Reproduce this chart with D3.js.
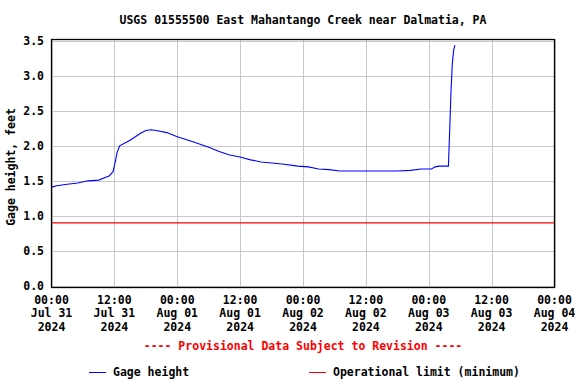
<!DOCTYPE html>
<html>
<head>
<meta charset="utf-8">
<script src="https://d3js.org/d3.v7.min.js"></script>
<style>
  html, body { margin: 0; padding: 0; background: #fff; }
  text { font-family: "DejaVu Sans Mono", monospace; font-weight: bold; }
</style>
</head>
<body>
<div id="chart"></div>
<script>
// gage height readings, feet
const times = [
  "2024-07-31T00:00", "2024-07-31T01:00", "2024-07-31T03:00", "2024-07-31T05:00",
  "2024-07-31T07:00", "2024-07-31T09:00", "2024-07-31T10:00", "2024-07-31T11:00",
  "2024-07-31T11:45", "2024-07-31T12:15", "2024-07-31T12:30", "2024-07-31T13:00",
  "2024-07-31T14:00", "2024-07-31T15:00", "2024-07-31T16:00", "2024-07-31T17:00",
  "2024-07-31T18:00", "2024-07-31T19:00", "2024-07-31T20:00", "2024-07-31T22:00",
  "2024-08-01T00:00", "2024-08-01T03:00", "2024-08-01T06:00", "2024-08-01T08:00",
  "2024-08-01T10:00", "2024-08-01T12:00", "2024-08-01T14:00", "2024-08-01T16:00",
  "2024-08-01T20:00", "2024-08-01T23:00", "2024-08-02T01:00", "2024-08-02T03:00",
  "2024-08-02T05:00", "2024-08-02T07:00", "2024-08-02T12:00", "2024-08-02T18:00",
  "2024-08-02T20:30", "2024-08-02T22:30", "2024-08-03T00:30", "2024-08-03T01:15",
  "2024-08-03T02:00", "2024-08-03T03:45", "2024-08-03T04:00", "2024-08-03T04:15",
  "2024-08-03T04:30", "2024-08-03T04:45", "2024-08-03T05:00"
];
const gageHeight = [
  1.41, 1.43, 1.45, 1.47,
  1.50, 1.51, 1.54, 1.57,
  1.63, 1.80, 1.90, 2.00,
  2.04, 2.08, 2.13, 2.18,
  2.22, 2.23, 2.22, 2.19,
  2.13, 2.06, 1.98, 1.92,
  1.87, 1.84, 1.80, 1.77,
  1.74, 1.71, 1.70, 1.67,
  1.66, 1.64, 1.64, 1.64,
  1.65, 1.67, 1.67, 1.70,
  1.71, 1.71, 2.23, 2.78,
  3.18, 3.37, 3.44
];
const operationalLimit = 0.9;

const yTicks = [0, 0.5, 1, 1.5, 2, 2.5, 3, 3.5];
const xTicks = [
  "2024-07-31T00:00", "2024-07-31T12:00", "2024-08-01T00:00", "2024-08-01T12:00",
  "2024-08-02T00:00", "2024-08-02T12:00", "2024-08-03T00:00", "2024-08-03T12:00",
  "2024-08-04T00:00"
];

const title = "USGS 01555500 East Mahantango Creek near Dalmatia, PA";
const yLabel = "Gage height, feet";
const note = "---- Provisional Data Subject to Revision ----";
const legendItems = [
  { label: "Gage height", color: "#0000ff" },
  { label: "Operational limit (minimum)", color: "#ff0000" }
];

const width = 576;
const height = 384;
const fontSize = 11.5;
const parse = d3.timeParse("%Y-%m-%dT%H:%M");
const fmt = d3.timeFormat("%H:%M|%b %d|%Y");

const plotLeft = 51.5, plotRight = 554.5, plotTop = 39.5, plotBottom = 287.5;

const x = d3.scaleTime()
  .domain([parse(xTicks[0]), parse(xTicks[xTicks.length - 1])])
  .range([plotLeft, plotRight]);
const y = d3.scaleLinear().domain([0, 3.5]).range([285.7, 41]);

const svg = d3.select("#chart").append("svg")
  .attr("width", width).attr("height", height);

svg.append("rect").attr("width", width).attr("height", height).attr("fill", "#fff");

// grid
svg.append("g").selectAll("line").data(yTicks).join("line")
  .attr("x1", plotLeft).attr("x2", plotRight)
  .attr("y1", d => Math.round(y(d)) + 0.5).attr("y2", d => Math.round(y(d)) + 0.5)
  .attr("stroke", "#c8c8c8").attr("stroke-width", 1);
svg.append("g").selectAll("line").data(xTicks).join("line")
  .attr("x1", d => Math.round(x(parse(d))) + 0.5).attr("x2", d => Math.round(x(parse(d))) + 0.5)
  .attr("y1", plotTop).attr("y2", plotBottom)
  .attr("stroke", "#c8c8c8").attr("stroke-width", 1);

// operational limit
svg.append("line")
  .attr("x1", plotLeft).attr("x2", plotRight)
  .attr("y1", y(operationalLimit)).attr("y2", y(operationalLimit))
  .attr("stroke", "#ff0000").attr("stroke-width", 1.3);

// gage line
const data = times.map((t, i) => ({ t: parse(t), v: gageHeight[i] }));
svg.append("path").datum(data)
  .attr("fill", "none").attr("stroke", "#0000ff").attr("stroke-width", 1.1)
  .attr("d", d3.line().x(d => x(d.t)).y(d => y(d.v)));

// frame
svg.append("rect")
  .attr("x", plotLeft).attr("y", plotTop)
  .attr("width", plotRight - plotLeft).attr("height", plotBottom - plotTop)
  .attr("fill", "none").attr("stroke", "#000").attr("stroke-width", 1.3);

// y tick labels
svg.append("g").selectAll("text").data(yTicks).join("text")
  .attr("x", 44).attr("y", d => y(d) + 4)
  .attr("text-anchor", "end").attr("font-size", fontSize)
  .text(d => d.toFixed(1));

// x tick labels
const xl = svg.append("g").selectAll("text").data(xTicks).join("text")
  .attr("text-anchor", "middle").attr("font-size", fontSize)
  .attr("transform", d => `translate(${x(parse(d))},304)`);
xl.selectAll("tspan").data(d => fmt(parse(d)).split("|")).join("tspan")
  .attr("x", 0).attr("dy", (d, i) => i === 0 ? 0 : 13.3)
  .text(d => d);

// title
svg.append("text")
  .attr("x", (plotLeft + plotRight) / 2).attr("y", 24)
  .attr("text-anchor", "middle").attr("font-size", fontSize)
  .text(title);

// y axis label
svg.append("text")
  .attr("transform", "translate(15,167) rotate(-90)")
  .attr("text-anchor", "middle").attr("font-size", fontSize)
  .text(yLabel);

// provisional note
svg.append("text")
  .attr("x", (plotLeft + plotRight) / 2).attr("y", 350)
  .attr("text-anchor", "middle").attr("font-size", fontSize)
  .attr("fill", "#ff0000")
  .text(note);

// legend
const lg = svg.append("g").selectAll("g").data(legendItems).join("g")
  .attr("transform", (d, i) => `translate(${i === 0 ? 89 : 309},372)`);
lg.append("line").attr("x1", 0).attr("x2", 17).attr("y1", 0.5).attr("y2", 0.5)
  .attr("stroke", d => d.color).attr("stroke-width", 1);
lg.append("text").attr("x", 24).attr("y", 4).attr("font-size", fontSize)
  .text(d => d.label);
</script>
</body>
</html>
